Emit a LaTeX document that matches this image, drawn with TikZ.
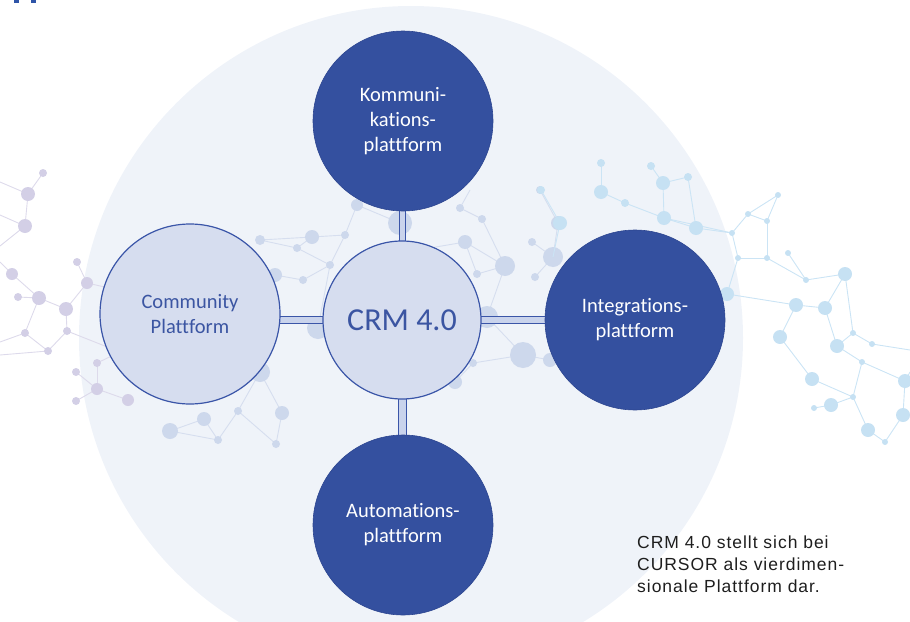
\documentclass[tikz,border=0pt]{standalone}
\usepackage{fontspec}
\setmainfont{Carlito}[Ligatures={NoCommon}]
\newfontfamily\captionfont{Liberation Sans}[LetterSpace=5.5]
\usetikzlibrary{calc}

\definecolor{deepblue}{HTML}{34509F}
\definecolor{deepedge}{HTML}{2C4590}
\definecolor{paleblue}{HTML}{D6DDEF}
\definecolor{rimblue}{HTML}{3A55A8}
\definecolor{labelblue}{HTML}{3B55A2}
\definecolor{haze}{HTML}{EFF3F9}
\definecolor{linkfill}{HTML}{C9D3EC}
\definecolor{netlav}{HTML}{D3CFE6}
\definecolor{netlavline}{HTML}{DDDAEB}
\definecolor{netmid}{HTML}{CDD8EC}
\definecolor{netmidline}{HTML}{D6DEEF}
\definecolor{netcyan}{HTML}{C6E1F3}
\definecolor{netcyanline}{HTML}{CBE4F5}
\definecolor{captiongray}{HTML}{1E1E1E}
\definecolor{markblue}{HTML}{2F55A8}

\pgfdeclarelayer{back}
\pgfdeclarelayer{links}
\pgfsetlayers{back,links,main}

\tikzset{
  platform/.style={circle, inner sep=0pt, minimum size=180pt, fill=deepblue,
    draw=deepedge, line width=0.6pt, text=white, align=center,
    font=\fontsize{20.5}{25}\selectfont},
  platformpale/.style={platform, fill=paleblue, draw=rimblue, line width=1.2pt,
    text=labelblue},
  hub/.style={platformpale, minimum size=158pt, font=\fontsize{32}{36}\selectfont},
  link/.style={fill=linkfill, draw=rimblue, line width=1pt},
  netL/.style={draw=netlavline, line width=0.9pt},
  netM/.style={draw=netmidline, line width=0.9pt},
  netR/.style={draw=netcyanline, line width=0.9pt},
  caption/.style={inner sep=0pt, align=left, text=captiongray,
    font=\captionfont\fontsize{17.5}{22}\selectfont}
}

% network points: name/x/y/dot radius
\def\leftpts{0a/0/182/0, 0b/0/215/0, 0c/0/246/0, 0d/0/262/0, 0e/0/342/0, 0f/0/355/0,
  1/43/173/4, 2/28/194/7, 3/25/226/7, 4/12/274/6, 5/39/298/7, 6/18/297/4,
  7/66/309/7, 8/87/283/6, 9/77/262/4, 10/25/333/4, 11/48/351/4, 12/67/331/4,
  13/76/372/4, 14/97/389/6, 15/76/401/4, 16/128/400/6, 17/97/363/4,
  18/118/290/0, 19/120/352/0}
\def\leftlinks{1/2, 2/3, 2/0a, 3/0b, 3/0c, 4/0d, 4/5, 5/6, 5/7, 7/8, 8/9, 8/18,
  7/12, 12/11, 11/10, 10/5, 10/0e, 11/0f, 12/19, 14/13, 14/15, 14/16, 14/17, 17/19}

\def\midpts{1/357/205/6, 2/400/223/12, 3/312/237/7, 4/345/235/4, 5/297/248/4,
  6/330/265/4, 7/303/280/4, 8/318/328/11, 9/465/242/7, 10/460/208/4, 11/482/219/4,
  12/505/266/10, 13/477/274/4, 14/487/317/11, 15/523/355/13, 16/473/363/4,
  17/455/382/7, 18/540/190/4, 19/558/223/7, 20/532/242/4, 21/553/257/10,
  22/535/277/4, 23/550/360/7, 24/260/240/5, 25/275/275/7, 26/260/372/10,
  27/170/431/8, 28/204/419/7, 29/218/440/4, 30/238/411/4, 31/282/413/7,
  32/276/444/4, 34/237/360/4, 35/430/248/0, 36/470/190/0}
\def\midlinks{1/4, 4/3, 3/5, 5/6, 4/6, 6/7, 3/24, 24/5, 6/8, 7/25, 2/1,
  10/11, 11/12, 9/12, 9/13, 13/12, 12/14, 14/15, 15/16, 16/17, 15/23, 9/35,
  10/36, 18/19, 19/21, 20/21, 21/22, 27/28, 27/29, 28/29, 29/30, 30/32, 31/32,
  31/26, 26/34, 34/25, 26/30}

\def\rightpts{1/601/163/4, 2/651/166/4, 3/541/190/4, 4/601/192/7, 5/663/183/7,
  6/688/177/4, 7/625/203/4, 8/560/223/7, 9/664/218/7, 10/696/228/7,
  11/732/233/3, 12/748/214/3, 13/767/221/3, 14/778/195/3, 15/788/253/3,
  16/738/258/3, 17/767/258/3, 18/845/274/7, 19/806/280/3, 20/727/294/7,
  21/796/305/7, 22/825/308/7, 23/780/337/7, 24/837/346/7, 25/853/333/3,
  26/872/344/3, 27/862/362/3, 28/812/379/7, 29/905/381/7, 30/853/397/3,
  31/831/405/7, 32/814/408/3, 33/868/430/7, 34/903/415/7, 35/885/442/3,
  36/553/257/0, 37/700/292/0, 38/910/350/0, 39/910/372/0}
\def\rightlinks{1/4, 4/7, 7/9, 2/5, 5/6, 5/9, 9/10, 6/10, 3/8, 8/36, 9/11,
  10/11, 11/12, 12/13, 13/14, 14/12, 11/16, 16/17, 13/17, 17/19, 15/19, 16/20,
  20/21, 21/22, 22/18, 19/18, 21/23, 23/28, 22/24, 24/25, 25/26, 24/27, 27/29,
  28/30, 30/27, 30/31, 31/32, 30/33, 33/35, 34/35, 29/34, 18/25, 20/37,
  26/38, 29/39}

\begin{document}
\begin{tikzpicture}[x=1pt, y=-1pt]
\useasboundingbox (0,0) rectangle (910,621);

% platform circles
\node[platform] (komm) at (403,121) {Kommuni-\\kations-\\plattform};
\node[hub] (crm) at (402,320) {CRM 4.0};
\node[platformpale] (comm) at (190,314) {Community\\Plattform};
\node[platform] (integ) at (635,320) {Integrations-\\plattform};
\node[platform] (auto) at (403,525) {Automations-\\plattform};

% double-rail connectors, hidden under the circles at both ends
\begin{pgfonlayer}{links}
  \draw[link] ([xshift=-3.5pt]komm.center) rectangle ([xshift=3.5pt]crm.center);
  \draw[link] ([xshift=-3.5pt]crm.center) rectangle ([xshift=3.5pt]auto.center);
  \draw[link] ([yshift=-2.5pt]comm.center) rectangle ([yshift=-3.5pt]crm.center);
  \draw[link] ([yshift=3.5pt]crm.center) rectangle ([yshift=-3.5pt]integ.center);
\end{pgfonlayer}

% backdrop: large haze disc and the dotted network
\begin{pgfonlayer}{back}
  \clip (0,0) rectangle (910,621);
  \fill[haze] (411,338) circle (332);

  \foreach \n/\x/\y/\r in \leftpts {\coordinate (L\n) at (\x,\y);}
  \foreach \a/\b in \leftlinks {\draw[netL] (L\a) -- (L\b);}
  \foreach \n/\x/\y/\r in \leftpts {\fill[netlav] (L\n) circle (\r);}

  \foreach \n/\x/\y/\r in \midpts {\coordinate (M\n) at (\x,\y);}
  \foreach \a/\b in \midlinks {\draw[netM] (M\a) -- (M\b);}
  \foreach \n/\x/\y/\r in \midpts {\fill[netmid] (M\n) circle (\r);}

  \foreach \n/\x/\y/\r in \rightpts {\coordinate (R\n) at (\x,\y);}
  \foreach \a/\b in \rightlinks {\draw[netR] (R\a) -- (R\b);}
  \foreach \n/\x/\y/\r in \rightpts {\fill[netcyan] (R\n) circle (\r);}

  % bits of the heading cut off at the top edge
  \fill[markblue] (14,0) rectangle (19,3);
  \fill[markblue] (31,0) rectangle (36,3);
\end{pgfonlayer}

% caption
\node[caption, anchor=north west] (note) at (637,536)
  {CRM 4.0 stellt sich bei\\CURSOR als vierdimen-\\sionale Plattform dar.};
\end{tikzpicture}
\end{document}
